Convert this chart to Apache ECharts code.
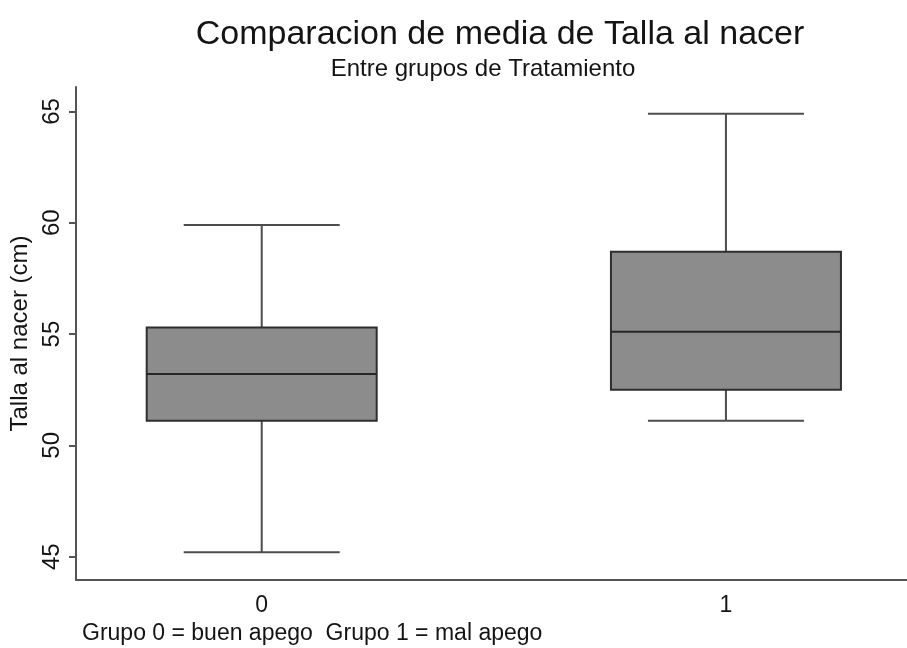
<!DOCTYPE html>
<html>
<head>
<meta charset="utf-8">
<script src="https://cdn.jsdelivr.net/npm/echarts@6/dist/echarts.min.js"></script>
<style>
  html, body { margin: 0; padding: 0; background: #ffffff; }
  #chart { width: 907px; height: 648px; }
</style>
</head>
<body>
<div id="chart"></div>
<script>
// Talla al nacer por grupo de tratamiento: resumen de cinco números
const groups = [0, 1];
const minVals    = [45.2, 51.1];
const q1Vals     = [51.1, 52.5];
const medianVals = [53.2, 55.1];
const q3Vals     = [55.3, 58.7];
const maxVals    = [59.9, 64.9];
const yTicks = [45, 50, 55, 60, 65];
const xTicks = [0, 1];

const boxData = groups.map((g, i) => [g, minVals[i], q1Vals[i], medianVals[i], q3Vals[i], maxVals[i]]);

const BOX_W = 230;
const CAP_W = 156;
const FONT = 'Liberation Sans, Arial, sans-serif';

function renderBox(params, api) {
  const x = api.value(0);
  const pMin = api.coord([x, api.value(1)]);
  const pQ1  = api.coord([x, api.value(2)]);
  const pMed = api.coord([x, api.value(3)]);
  const pQ3  = api.coord([x, api.value(4)]);
  const pMax = api.coord([x, api.value(5)]);
  const cx = pMed[0];
  const whisker = { stroke: '#4d4d4d', lineWidth: 2 };
  return {
    type: 'group',
    children: [
      { type: 'line', shape: { x1: cx, y1: pQ3[1], x2: cx, y2: pMax[1] }, style: whisker },
      { type: 'line', shape: { x1: cx, y1: pQ1[1], x2: cx, y2: pMin[1] }, style: whisker },
      { type: 'line', shape: { x1: cx - CAP_W / 2, y1: pMax[1], x2: cx + CAP_W / 2, y2: pMax[1] }, style: whisker },
      { type: 'line', shape: { x1: cx - CAP_W / 2, y1: pMin[1], x2: cx + CAP_W / 2, y2: pMin[1] }, style: whisker },
      { type: 'rect', shape: { x: cx - BOX_W / 2, y: pQ3[1], width: BOX_W, height: pQ1[1] - pQ3[1] },
        style: { fill: '#8c8c8c', stroke: '#2e2e2e', lineWidth: 2 } },
      { type: 'line', shape: { x1: cx - BOX_W / 2, y1: pMed[1], x2: cx + BOX_W / 2, y2: pMed[1] },
        style: { stroke: '#262626', lineWidth: 2 } }
    ]
  };
}

const chart = echarts.init(document.getElementById('chart'), null, { renderer: 'canvas' });
chart.setOption({
  backgroundColor: '#ffffff',
  animation: false,
  title: [
    {
      text: 'Comparacion de media de Talla al nacer',
      left: 495, top: 13, textAlign: 'center',
      textStyle: { fontFamily: FONT, fontSize: 34, fontWeight: 'normal', color: '#141414' }
    },
    {
      text: 'Entre grupos de Tratamiento',
      left: 478, top: 52, textAlign: 'center',
      textStyle: { fontFamily: FONT, fontSize: 24, fontWeight: 'normal', color: '#141414' }
    },
    {
      text: 'Grupo 0 = buen apego  Grupo 1 = mal apego',
      left: 77, top: 617,
      textStyle: { fontFamily: FONT, fontSize: 23, fontWeight: 'normal', color: '#141414' }
    }
  ],
  grid: { left: 76, right: 0, top: 87, bottom: 68, containLabel: false },
  xAxis: {
    type: 'value', min: -0.4, max: 1.39,
    splitLine: { show: false },
    axisLine: { show: true, onZero: false, lineStyle: { color: '#555555', width: 2 } },
    axisTick: { show: false },
    axisLabel: {
      customValues: xTicks,
      margin: 14, fontSize: 23, color: '#141414', fontFamily: FONT
    }
  },
  yAxis: {
    type: 'value', min: 43.95, max: 66.1,
    name: 'Talla al nacer (cm)', nameLocation: 'middle', nameGap: 44, nameRotate: 90,
    nameTextStyle: { fontSize: 24, color: '#141414', fontFamily: FONT },
    splitLine: { show: false },
    axisLine: { show: true, onZero: false, lineStyle: { color: '#555555', width: 2 } },
    axisTick: { show: true, customValues: yTicks, length: 7, lineStyle: { color: '#555555', width: 2 } },
    axisLabel: {
      customValues: yTicks, rotate: 90, margin: 12,
      fontSize: 24, color: '#141414', fontFamily: FONT
    }
  },
  series: [{
    type: 'custom',
    renderItem: renderBox,
    encode: { x: 0, y: [1, 2, 3, 4, 5] },
    data: boxData
  }]
});
</script>
</body>
</html>
